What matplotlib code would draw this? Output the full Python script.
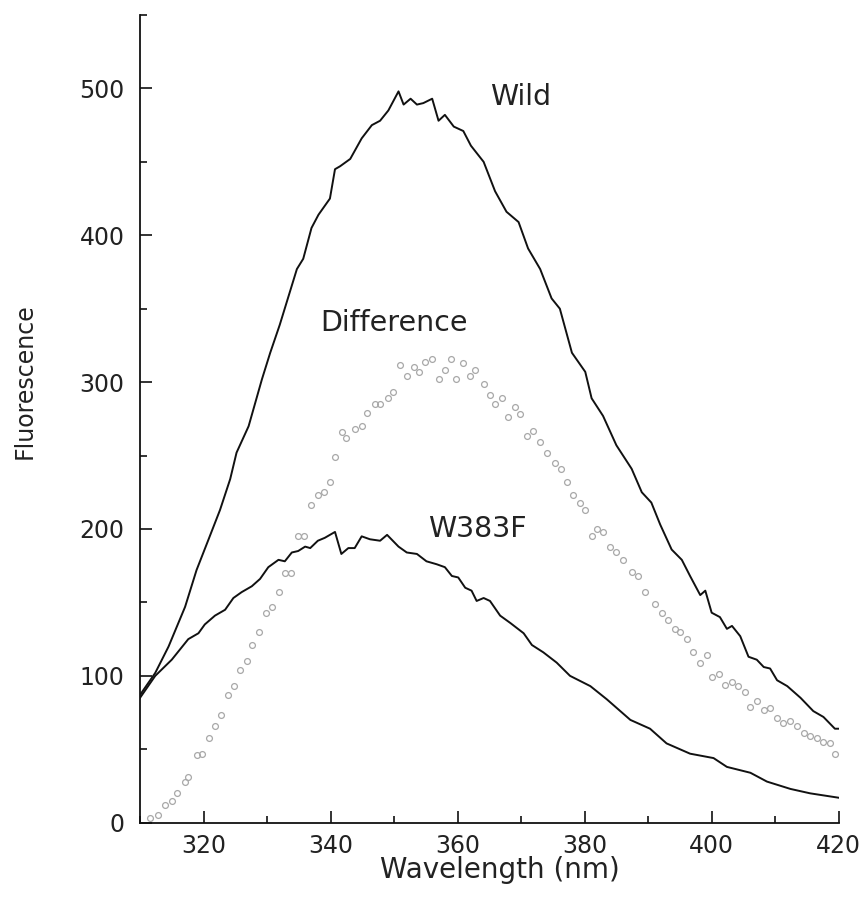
import matplotlib
matplotlib.use("Agg")
import matplotlib.pyplot as plt
from matplotlib.ticker import MultipleLocator

# ---- data ----
wild_x = [310.0, 312.4, 314.5, 317.1, 318.9, 320.8, 322.6, 324.2, 325.2, 327.1, 329.2, 330.5,
          332.0, 334.7, 335.7, 337.0, 338.1, 339.9, 340.7, 341.5, 343.1, 344.9, 346.5, 347.8,
          349.1, 350.7, 351.5, 352.6, 353.6, 354.6, 356.0, 357.0, 358.0, 359.4, 360.9, 362.1,
          364.1, 365.9, 367.7, 369.6, 371.1, 373.0, 374.8, 376.1, 378.0, 380.1, 381.1, 382.9,
          385.0, 387.4, 389.0, 390.5, 391.9, 393.7, 395.3, 396.6, 398.2, 399.0, 400.0, 401.3,
          402.4, 403.2, 404.5, 405.8, 407.1, 408.2, 409.2, 410.3, 411.9, 414.0, 416.0, 417.6,
          419.4, 420.0]
wild_y = [87, 102, 120, 147, 172, 193, 213, 234, 252, 270, 302, 320,
          339, 377, 384, 405, 414, 425, 445, 447, 452, 466, 475, 478,
          485, 498, 489, 493, 489, 490, 493, 478, 482, 474, 471, 461,
          450, 430, 416, 409, 391, 377, 357, 350, 320, 307, 289, 277,
          257, 241, 225, 218, 203, 186, 179, 168, 155, 158, 143, 140,
          132, 134, 127, 113, 111, 106, 105, 97, 93, 85, 76, 72,
          64, 64]

w383f_x = [310.0, 312.4, 315.0, 317.6, 319.2, 320.2, 321.8, 323.4, 324.7, 326.0, 327.6, 328.9,
           330.2, 331.8, 332.8, 333.9, 334.9, 336.0, 336.8, 338.0, 339.1, 340.7, 341.7, 342.8,
           343.8, 344.9, 346.2, 347.8, 348.9, 350.7, 352.0, 353.6, 355.1, 356.7, 358.0, 359.1,
           360.1, 361.2, 362.2, 363.0, 364.1, 365.1, 366.7, 368.3, 370.4, 371.7, 373.5, 375.6,
           377.7, 380.9, 383.5, 387.2, 390.3, 392.9, 396.6, 400.3, 402.4, 406.1, 408.7, 412.4,
           415.5, 420.0]
w383f_y = [85, 100, 111, 125, 129, 135, 141, 145, 153, 157, 161, 166,
           174, 179, 178, 184, 185, 188, 187, 192, 194, 198, 183, 187,
           187, 195, 193, 192, 196, 188, 184, 183, 178, 176, 174, 168,
           167, 160, 158, 151, 153, 151, 141, 136, 129, 121, 116, 109,
           100, 93, 84, 70, 64, 54, 47, 44, 38, 34, 28, 23,
           20, 17]

diff_x = [311.6, 312.9, 313.9, 315.0, 315.8, 317.1, 317.6, 318.9, 319.7, 320.8, 321.8, 322.7,
          323.9, 324.8, 325.7, 326.9, 327.7, 328.8, 329.9, 330.8, 331.9, 332.9, 333.8, 334.9,
          335.8, 336.9, 338.0, 338.9, 339.9, 340.7, 341.8, 342.5, 343.8, 344.9, 345.8, 347.0,
          347.8, 349.1, 349.9, 351.0, 352.0, 353.1, 353.9, 354.9, 356.0, 357.0, 358.0, 358.9,
          359.8, 360.9, 362.0, 362.8, 364.1, 365.1, 365.9, 367.0, 368.0, 369.1, 369.8, 370.9,
          371.9, 373.0, 374.0, 375.4, 376.3, 377.2, 378.2, 379.3, 380.1, 381.1, 381.9, 382.9,
          384.0, 385.0, 386.1, 387.4, 388.4, 389.5, 391.1, 392.2, 393.2, 394.3, 395.0, 396.1,
          397.1, 398.2, 399.2, 400.0, 401.1, 402.1, 403.2, 404.2, 405.3, 406.1, 407.1, 408.2,
          409.2, 410.3, 411.3, 412.4, 413.4, 414.5, 415.5, 416.6, 417.6, 418.7, 419.4]
diff_y = [3, 5, 12, 15, 20, 28, 31, 46, 47, 58, 66, 73,
          87, 93, 104, 110, 121, 130, 143, 147, 157, 170, 170, 195,
          195, 216, 223, 225, 232, 249, 266, 262, 268, 270, 279, 285,
          285, 289, 293, 312, 304, 310, 307, 314, 316, 302, 308, 316,
          302, 313, 304, 308, 299, 291, 285, 289, 276, 283, 278, 263,
          267, 259, 252, 245, 241, 232, 223, 218, 213, 195, 200, 198,
          188, 184, 179, 171, 168, 157, 149, 143, 138, 132, 130, 125,
          116, 109, 114, 99, 101, 94, 96, 93, 89, 79, 83, 77,
          78, 71, 68, 69, 66, 61, 59, 58, 55, 54, 47]

x_ticks = [320, 340, 360, 380, 400, 420]
y_ticks = [0, 100, 200, 300, 400, 500]
x_label = "Wavelength (nm)"
y_label = "Fluorescence"
labels = {"Wild": (365.1, 494), "Difference": (338.3, 340), "W383F": (355.4, 200)}

# ---- figure ----
fig = plt.figure(figsize=(8.68, 8.98), dpi=100)
ax = fig.add_axes([140 / 868, 1 - 822.7 / 898, 698.7 / 868, 807.7 / 898])

ax.plot(wild_x, wild_y, color="#111111", lw=1.4)
ax.plot(w383f_x, w383f_y, color="#111111", lw=1.4)
ax.plot(diff_x, diff_y, linestyle="none", marker="o", markersize=4.2,
        markerfacecolor="none", markeredgecolor="#a8a8a8", markeredgewidth=0.9)

ax.set_xlim(310, 420)
ax.set_ylim(0, 550)
ax.set_xticks(x_ticks)
ax.set_yticks(y_ticks)
ax.xaxis.set_minor_locator(MultipleLocator(10))
ax.yaxis.set_minor_locator(MultipleLocator(50))

for s in ("top", "right"):
    ax.spines[s].set_visible(False)
for s in ("left", "bottom"):
    ax.spines[s].set_linewidth(1.3)
    ax.spines[s].set_color("#111111")

ax.tick_params(axis="both", which="major", direction="in", length=8.5, width=1.2,
               colors="#111111", labelsize=17, labelcolor="#222222")
ax.tick_params(axis="both", which="minor", direction="in", length=5, width=1.2, colors="#111111")
ax.tick_params(axis="y", which="major", pad=11)
ax.tick_params(axis="x", which="major", pad=8)

ax.set_xlabel(x_label, fontsize=20, color="#222222")
ax.xaxis.set_label_coords((500 - 140) / 698.7, (822.7 - 870) / 807.7)
ax.xaxis.label.set_va("center")
ax.set_ylabel(y_label, fontsize=17, color="#222222")
ax.yaxis.set_label_coords((25 - 140) / 698.7, (822.7 - 381.5) / 807.7)
ax.yaxis.label.set_va("center")

for txt, (tx, ty) in labels.items():
    ax.text(tx, ty, txt, fontsize=20.5, color="#222222", ha="left", va="center")

fig.savefig("out.png", dpi=100, facecolor="white")
